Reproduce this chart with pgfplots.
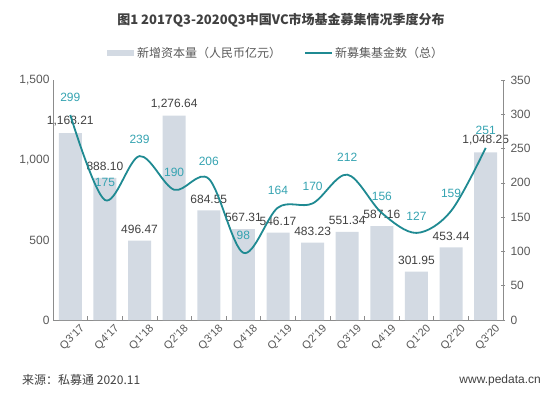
\documentclass[border=0pt]{standalone}
\usepackage{pgfplots}
\pgfplotsset{compat=1.18}
\usepackage{pgfplotstable}
\usepackage{fontspec}
\setmainfont{Liberation Sans}
\newfontfamily\cjk{Noto Sans CJK SC}
\definecolor{barc}{HTML}{D3DAE3}
\definecolor{linec}{HTML}{1F8A92}
\definecolor{lblc}{HTML}{35A3B1}
\definecolor{txt}{HTML}{595959}
\definecolor{dtxt}{HTML}{404040}
\definecolor{axc}{HTML}{8C8C8C}

\pgfplotstableread{
x y
0 1168.21
1 888.10
2 496.47
3 1276.64
4 684.55
5 567.31
6 546.17
7 483.23
8 551.34
9 587.16
10 301.95
11 453.44
12 1048.25
}\bars

\pgfplotstableread{
x c
0 299
1 175
2 239
3 190
4 206
5 98
6 164
7 170
8 212
9 156
10 127
11 159
12 251
}\funds

\begin{document}
\begin{tikzpicture}[x=1pt,y=1pt]
\useasboundingbox (0,0) rectangle (554,394);
\begin{axis}[
  at={(53pt,74pt)}, anchor=south west,
  scale only axis, width=450pt, height=240pt,
  xmin=-0.5, xmax=12.5, ymin=0, ymax=1500,
  axis x line*=bottom, axis y line*=left,
  axis line style={axc, line width=0.8pt},
  xtick={0,...,12},
  xticklabels={Q3'17,Q4'17,Q1'18,Q2'18,Q3'18,Q4'18,Q1'19,Q2'19,Q3'19,Q4'19,Q1'20,Q2'20,Q3'20},
  major x tick style={draw=none},
  minor xtick={0.5,1.5,...,11.5},
  minor x tick style={axc, line width=0.6pt},
  minor tick length=4pt,
  tick align=inside,
  x tick label style={rotate=45, anchor=north east, font=\fontsize{11}{13}\selectfont, text=txt, inner sep=0pt, yshift=-9pt, xshift=4pt},
  ytick={0,500,1000,1500},
  major y tick style={draw=none},
  y tick label style={font=\fontsize{12}{14}\selectfont, text=txt},
  /pgf/number format/.cd, 1000 sep={,}, assume math mode=true,
  /pgfplots/.cd,
  clip=false,
]
\addplot[ybar, bar width=23pt, fill=barc, draw=none,
  nodes near coords,
  nodes near coords style={font=\fontsize{12}{14}\selectfont, text=dtxt, anchor=south, inner sep=0pt, yshift=7pt,
    /pgf/number format/.cd, fixed, fixed zerofill, precision=2, 1000 sep={,}, assume math mode=true},
] table[x=x,y=y]{\bars};
\end{axis}
\begin{axis}[
  at={(53pt,74pt)}, anchor=south west,
  scale only axis, width=450pt, height=240pt,
  xmin=-0.5, xmax=12.5, ymin=0, ymax=350,
  axis x line=none, axis y line*=right,
  axis line style={axc, line width=0.8pt},
  ytick={0,50,...,350},
  major y tick style={axc, line width=0.6pt},
  major tick length=4pt,
  tick align=center,
  y tick label style={font=\fontsize{12}{14}\selectfont, text=txt, xshift=2pt},
  /pgf/number format/assume math mode=true,
  clip=false,
]
\addplot[linec, line width=1.8pt, smooth, tension=0.55, mark=none,
  nodes near coords,
  nodes near coords style={font=\fontsize{12}{14}\selectfont, text=lblc, anchor=south, inner sep=0pt, yshift=12pt,
    /pgf/number format/assume math mode=true},
] table[x=x,y=c]{\funds};
\end{axis}
% title
\node[font=\cjk\bfseries\fontsize{13}{15}\selectfont, text=dtxt] at (281,374) {图1 2017Q3-2020Q3中国VC市场基金募集情况季度分布};
% legend
\fill[barc] (107,338) rectangle (134,344);
\node[anchor=west, font=\cjk\fontsize{12}{14}\selectfont, text=txt, inner sep=0pt] at (137,341) {新增资本量（人民币亿元）};
\draw[linec, line width=1.8pt] (305,341) -- (332,341);
\node[anchor=west, font=\cjk\fontsize{12}{14}\selectfont, text=txt, inner sep=0pt] at (335,341) {新募集基金数（总）};
% footer
\node[anchor=west, font=\cjk\fontsize{12}{14}\selectfont, text=dtxt, inner sep=0pt] at (22,14) {来源：私募通 2020.11};
\node[anchor=east, font=\fontsize{12}{14}\selectfont, text=dtxt, inner sep=0pt] at (541,14) {www.pedata.cn};
\end{tikzpicture}
\end{document}
